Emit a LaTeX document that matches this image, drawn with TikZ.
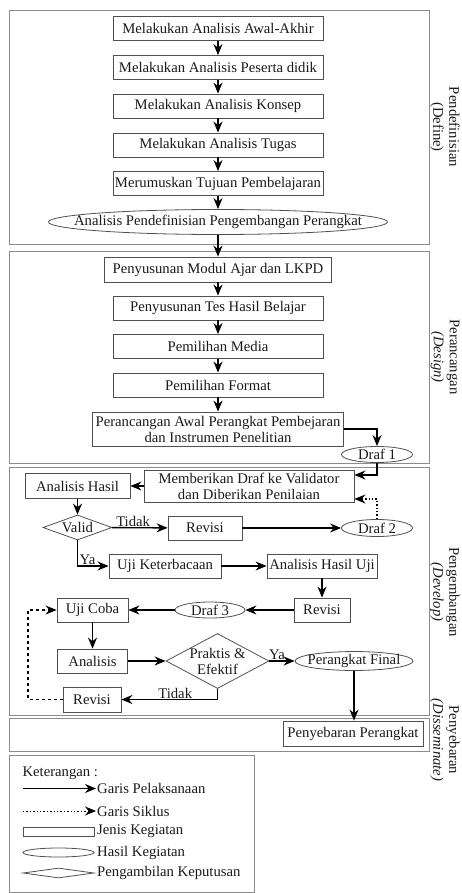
\documentclass[tikz,border=0pt]{standalone}
\usepackage{fontspec}
\setmainfont{Liberation Serif}
\usetikzlibrary{arrows.meta,shapes.geometric}
\definecolor{boxline}{HTML}{505050}
\definecolor{phaseline}{HTML}{8C8C8C}
\definecolor{ink}{HTML}{1A1A1A}
\tikzset{
  every node/.style={font=\fontsize{14.7}{16}\selectfont, text=ink},
  kegiatan/.style={draw=boxline, line width=0.8pt, minimum height=24pt, inner sep=1pt, align=center},
  hasil/.style={draw=boxline, line width=0.8pt, ellipse, inner sep=0pt},
  putusan/.style={draw=boxline, line width=0.8pt, diamond, aspect=2.5, inner sep=0pt, align=center},
  fase/.style={draw=phaseline, line width=1pt},
  faselabel/.style={rotate=-90, align=center},
  alur/.style={draw=black, line width=1.4pt, -{Stealth[length=11pt,width=9pt]}},
  siklus/.style={alur, dotted},
  ulang/.style={alur, dash pattern=on 3pt off 3pt},
  lbl/.style={above, inner sep=0.5pt},
}

\begin{document}
\begin{tikzpicture}[x=1pt, y=-1pt]
    \useasboundingbox (0,0) rectangle (461,893);
    % tahap
    \draw[fase] (9,11) rectangle (429,244);
    \draw[fase] (9,251) rectangle (429,463);
    \draw[fase] (9,467) rectangle (429,715);
    \draw[fase] (9,718) rectangle (429,751);
    \draw[fase] (9,755) rectangle (254,892.5);
    \node[faselabel] (tDefine) at (445,127) {Pendefinisian\\(Define)};
    \node[faselabel] (tDesign) at (445,357) {Perancangan\\\textit{(Design)}};
    \node[faselabel] (tDevelop) at (445,592) {Pengembangan\\\textit{(Develop)}};
    \node[faselabel] (tDissem) at (445,740) {Penyebaran\\\textit{(Disseminate)}};

    % define
    \node[kegiatan, minimum width=210pt] (a1) at (218,28.5) {Melakukan Analisis Awal-Akhir};
    \node[kegiatan, minimum width=210pt] (a2) at (218,67.5) {Melakukan Analisis Peserta didik};
    \node[kegiatan, minimum width=210pt] (a3) at (218,106) {Melakukan Analisis Konsep};
    \node[kegiatan, minimum width=210pt] (a4) at (218,145) {Melakukan Analisis Tugas};
    \node[kegiatan, minimum width=210pt] (a5) at (218,183.5) {Merumuskan Tujuan Pembelajaran};
    \node[hasil, minimum width=339pt, minimum height=25pt, inner xsep=-30pt] (a6) at (218,222) {Analisis Pendefinisian Pengembangan Perangkat};

    % design
    \node[kegiatan, minimum width=227pt, minimum height=25pt] (b1) at (218,269.5) {Penyusunan Modul Ajar dan LKPD};
    \node[kegiatan, minimum width=210pt] (b2) at (218,308) {Penyusunan Tes Hasil Belajar};
    \node[kegiatan, minimum width=210pt] (b3) at (218,346.5) {Pemilihan Media};
    \node[kegiatan, minimum width=210pt] (b4) at (218,385) {Pemilihan Format};
    \node[kegiatan, minimum width=251pt, minimum height=34pt] (b5) at (218,429) {Perancangan Awal Perangkat Pembejaran\\dan Instrumen Penelitian};
    \node[hasil, minimum width=71pt, minimum height=16pt] (draf1) at (377,454.5) {Draf 1};

    % develop
    \node[kegiatan, minimum width=210pt, minimum height=32pt] (c1) at (249,486) {Memberikan Draf ke Validator\\dan Diberikan Penilaian};
    \node[kegiatan, minimum width=105pt, minimum height=25pt] (c2) at (77.5,486) {Analisis Hasil};
    \node[putusan, minimum width=69pt, minimum height=25pt] (valid) at (77.5,527.5) {Valid};
    \node[kegiatan, minimum width=74pt] (c3) at (205,528) {Revisi};
    \node[hasil, minimum width=71pt, minimum height=17pt] (draf2) at (377,528) {Draf 2};
    \node[kegiatan, minimum width=112pt] (c4) at (165,566) {Uji Keterbacaan};
    \node[kegiatan, minimum width=110pt] (c5) at (322,566) {Analisis Hasil Uji};
    \node[kegiatan, minimum width=56pt] (c6) at (322,610) {Revisi};
    \node[hasil, minimum width=70pt, minimum height=16pt] (draf3) at (210,610) {Draf 3};
    \node[kegiatan, minimum width=71pt] (c7) at (92.5,610) {Uji Coba};
    \node[kegiatan, minimum width=70pt] (c8) at (92.5,661) {Analisis};
    \node[putusan, minimum width=103pt, minimum height=55pt, inner sep=-3pt] (praktis) at (217.5,661) {Praktis \&\\Efektif};
    \node[hasil, minimum width=118pt, minimum height=17pt, inner xsep=-5pt] (final) at (354,661) {Perangkat Final};
    \node[kegiatan, minimum width=58pt, minimum height=25pt] (c9) at (92,699.5) {Revisi};
    \coordinate (pojok) at (28,699.5);

    % disseminate
    \node[kegiatan, minimum width=140pt, minimum height=25pt] (d1) at (353,733.5) {Penyebaran Perangkat};

    \draw[alur] (a1) -- (a2);
    \draw[alur] (a2) -- (a3);
    \draw[alur] (a3) -- (a4);
    \draw[alur] (a4) -- (a5);
    \draw[alur] (a5) -- (a6);
    \draw[alur] (a6) -- (b1);
    \draw[alur] (b1) -- (b2);
    \draw[alur] (b2) -- (b3);
    \draw[alur] (b3) -- (b4);
    \draw[alur] (b4) -- (b5);
    \draw[alur] (b5.east) -| (draf1.north);
    \draw[alur] (draf1.south) |- ([yshift=11pt]c1.east);
    \draw[siklus] (draf2.north) |- ([yshift=-13pt]c1.east);
    \draw[alur] (c1) -- (c2);
    \draw[alur] (c2) -- (valid);
    \draw[alur] (valid) -- node[lbl, pos=0.38] {Tidak} (c3);
    \draw[alur] (c3) -- (draf2);
    \draw[alur] (valid.south) |- node[lbl, pos=0.66] {Ya} (c4.west);
    \draw[alur] (c4) -- (c5);
    \draw[alur] (c5) -- (c6);
    \draw[alur] (c6) -- (draf3);
    \draw[alur] (draf3) -- (c7);
    \draw[alur] (c7) -- (c8);
    \draw[alur] (c8) -- (praktis);
    \draw[alur] (praktis) -- node[lbl, pos=0.3] {Ya} (final);
    \draw[alur] (praktis.south) |- node[lbl, pos=0.72] {Tidak} (c9.east);
    \draw[ulang] (c9.west) -- (pojok) |- (c7.west);
    \draw[alur] (final.south) -- (final.south |- d1.north);

    % keterangan
    \node[anchor=west] (ket) at (19,773) {Keterangan :};
    \coordinate (lg1) at (23,788.5);
    \node[anchor=west, inner sep=1pt] (tx1) at (96,788.5) {Garis Pelaksanaan};
    \draw[alur] (lg1) -- (tx1.west);
    \coordinate (lg2) at (23,811);
    \node[anchor=west, inner sep=1pt] (tx2) at (96,811) {Garis Siklus};
    \draw[siklus, line width=1pt] (lg2) -- (tx2.west);
    \node[kegiatan, minimum width=71pt, minimum height=9pt, inner sep=0pt] (lgrect) at (58.5,831.5) {};
    \node[anchor=west, inner sep=1pt] (tx3) at (96,831.5) {Jenis Kegiatan};
    \node[hasil, minimum width=71pt, minimum height=9pt] (lgell) at (58.5,852.5) {};
    \node[anchor=west, inner sep=1pt] (tx4) at (96,852.5) {Hasil Kegiatan};
    \node[putusan, minimum width=71pt, minimum height=10pt] (lgdia) at (58.5,873) {};
    \node[anchor=west, inner sep=1pt] (tx5) at (96,873) {Pengambilan Keputusan};
\end{tikzpicture}
\end{document}
